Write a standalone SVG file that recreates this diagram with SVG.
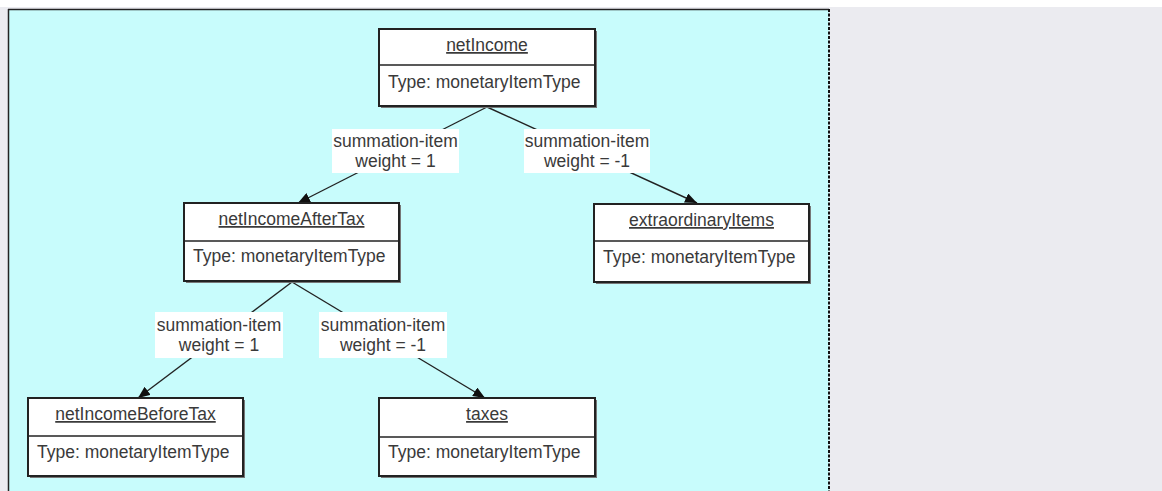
<svg xmlns="http://www.w3.org/2000/svg" width="1162" height="491" viewBox="0 0 1162 491">
<defs>
<marker id="arr" viewBox="0 0 12 10" refX="12" refY="5" markerWidth="12" markerHeight="10" markerUnits="userSpaceOnUse" orient="auto">
<path d="M0,0 L12,5 L0,10 Z" fill="#111"/>
</marker>
</defs>
<style>
.bg{fill:#ebebf0}
.shadow{fill:#777}
.box{fill:#fff;stroke:#222;stroke-width:2}
.div{stroke:#222;stroke-width:1.5}
.t{font-family:"Liberation Sans",Arial,sans-serif;font-size:17.5px;fill:#3a3a3a}
.title{text-anchor:middle;text-decoration:underline}
.lbl{fill:#fff}
.lt{text-anchor:middle}
.conn{stroke:#222;stroke-width:1.4;fill:none}
</style>
<rect x="0" y="0" width="1162" height="491" class="bg"/>
<rect x="0" y="0" width="1162" height="7" fill="#fff"/>
<rect x="8" y="9" width="821" height="482" fill="#c8fcfc"/>
<line x1="8" y1="9.5" x2="829" y2="9.5" stroke="#222" stroke-width="1.5"/>
<line x1="8.5" y1="9" x2="8.5" y2="491" stroke="#222" stroke-width="1.5"/>
<line x1="829" y1="9" x2="829" y2="491" stroke="#111" stroke-width="2" stroke-dasharray="3,1.5"/>

<g id="connectors">
<line class="conn" x1="487" y1="107" x2="298" y2="203" marker-end="url(#arr)"/>
<line class="conn" x1="487" y1="107" x2="697" y2="203" marker-end="url(#arr)"/>
<line class="conn" x1="292" y1="282" x2="138" y2="398" marker-end="url(#arr)"/>
<line class="conn" x1="292" y1="282" x2="485" y2="398" marker-end="url(#arr)"/>
<g id="lbl1">
<rect class="lbl" x="332" y="129" width="127" height="44"/>
<text class="t lt" x="395.5" y="147">summation-item</text>
<text class="t lt" x="395.5" y="167">weight = 1</text>
</g>
<g id="lbl2">
<rect class="lbl" x="524" y="129" width="126" height="44"/>
<text class="t lt" x="587" y="147">summation-item</text>
<text class="t lt" x="587" y="167">weight = -1</text>
</g>
<g id="lbl3">
<rect class="lbl" x="155" y="312" width="128" height="46"/>
<text class="t lt" x="219" y="331">summation-item</text>
<text class="t lt" x="219" y="351">weight = 1</text>
</g>
<g id="lbl4">
<rect class="lbl" x="319" y="312" width="128" height="46"/>
<text class="t lt" x="383" y="331">summation-item</text>
<text class="t lt" x="383" y="351">weight = -1</text>
</g>
</g>

<g id="netIncome">
<rect class="shadow" x="381" y="31" width="216" height="77"/>
<rect class="box" x="379" y="29" width="216" height="77"/>
<line class="div" x1="379" y1="65" x2="595" y2="65"/>
<text class="t title" x="487" y="51">netIncome</text>
<text class="t" x="388" y="88">Type: monetaryItemType</text>
</g>

<g id="netIncomeAfterTax">
<rect class="shadow" x="186" y="205" width="215" height="78"/>
<rect class="box" x="184" y="203" width="215" height="78"/>
<line class="div" x1="184" y1="241" x2="399" y2="241"/>
<text class="t title" x="291.5" y="225">netIncomeAfterTax</text>
<text class="t" x="193" y="262">Type: monetaryItemType</text>
</g>

<g id="extraordinaryItems">
<rect class="shadow" x="596" y="206" width="215" height="78"/>
<rect class="box" x="594" y="204" width="215" height="78"/>
<line class="div" x1="594" y1="241" x2="809" y2="241"/>
<text class="t title" x="701.5" y="226">extraordinaryItems</text>
<text class="t" x="603" y="263">Type: monetaryItemType</text>
</g>

<g id="netIncomeBeforeTax">
<rect class="shadow" x="30" y="400" width="215" height="78"/>
<rect class="box" x="28" y="398" width="215" height="78"/>
<line class="div" x1="28" y1="436" x2="243" y2="436"/>
<text class="t title" x="135.5" y="420">netIncomeBeforeTax</text>
<text class="t" x="37" y="458">Type: monetaryItemType</text>
</g>

<g id="taxes">
<rect class="shadow" x="381" y="400" width="216" height="78"/>
<rect class="box" x="379" y="398" width="216" height="78"/>
<line class="div" x1="379" y1="437" x2="595" y2="437"/>
<text class="t title" x="487" y="420">taxes</text>
<text class="t" x="388" y="458">Type: monetaryItemType</text>
</g>
</svg>
